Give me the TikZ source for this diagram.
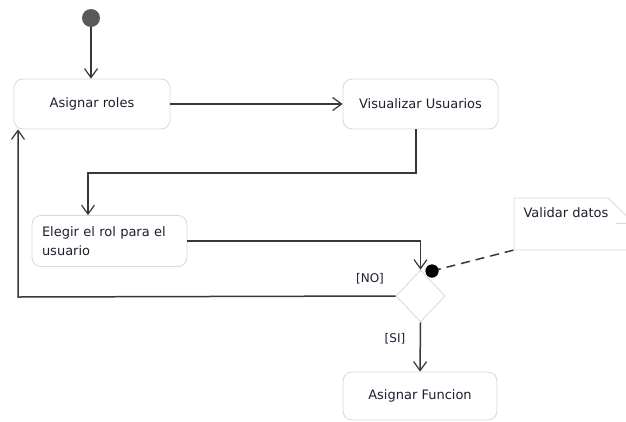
\documentclass[tikz,border=0pt]{standalone}
\usepackage{fontspec}
\setmainfont{DejaVu Sans}
\usetikzlibrary{arrows.meta,shapes.geometric,calc}
\definecolor{linec}{HTML}{383838}
\definecolor{boxc}{HTML}{D8D8D8}
\definecolor{txtc}{HTML}{1E1E2E}
\begin{document}
\begin{tikzpicture}[x=1pt,y=-1pt,
  every node/.style={font=\fontsize{13}{18.5}\selectfont, text=txtc},
  action/.style={draw=boxc, line width=0.8pt, rounded corners=9pt, fill=white, inner sep=0pt},
  conn/.style={draw=linec, line width=1.5pt, -{Straight Barb[length=9pt,width=13pt,line width=1.2pt]}},
  plain/.style={draw=linec, line width=1.5pt},
  guard/.style={font=\fontsize{12}{14}\selectfont}
]
\useasboundingbox (0,0) rectangle (626,421);
\clip (0,0) rectangle (626,421);

% nodes
\node[circle, fill=black!65, draw=none, minimum size=18pt, inner sep=0pt] (start) at (91,18) {};
\node[action, minimum width=156pt, minimum height=50pt] (roles) at (92,104) {Asignar roles};
\node[action, minimum width=155pt, minimum height=50pt] (visu) at (420.5,104) {Visualizar Usuarios};
\node[action, minimum height=51pt, text width=135pt, inner xsep=10pt, align=left] (elegir) at (109.5,241) {Elegir el rol para el\\usuario};
\node[diamond, draw=boxc, line width=0.8pt, fill=white, minimum width=49pt, minimum height=52pt, inner sep=0pt] (dia) at (420.5,296) {};
\node[circle, fill=black, minimum size=13pt, inner sep=0pt] (dot) at (432,271) {};
\node[action, minimum width=154pt, minimum height=48pt] (func) at (420,396) {Asignar Funcion};

% note
\draw[boxc, line width=0.8pt, fill=white] (514,198) -- (608,198) -- (634,223) -- (634,250) -- (514,250) -- cycle;
\draw[boxc, line width=0.8pt] (616,223) -- (634,223);
\node[anchor=west] (note) at (520,213) {Validar datos};
\coordinate (nc) at (514,250);

% connectors
\draw[conn] (start.south) -- (start.south |- roles.north);
\draw[conn] (roles.east) -- (visu.west);
\coordinate (b1) at (416,173);
\coordinate (b2) at (88,173);
\draw[conn] (b1 |- visu.south) -- (b1) -- (b2) -- (b2 |- elegir.north);
\draw[conn] (elegir.east) -| (dia.north);
\coordinate (c2) at (18,297);
\draw[conn] (dia.west) -- (c2) -- (c2 |- roles.south);
\draw[conn] (dia.south) -- (func.north);
\draw[plain, dash pattern=on 9pt off 6pt] (dot.center) -- (nc);
\node[circle, fill=black, minimum size=13pt, inner sep=0pt] at (dot) {};

% guards
\node[guard] (no) at (370,279) {[NO]};
\node[guard] (si) at (395,339) {[SI]};
\end{tikzpicture}
\end{document}
